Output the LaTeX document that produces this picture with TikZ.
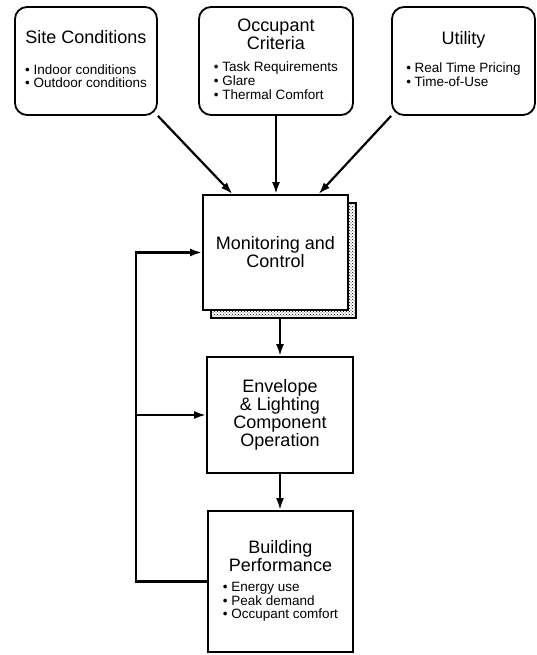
\documentclass[tikz,border=0pt]{standalone}
\usepackage{fontspec}
\setmainfont{Liberation Sans}
\usetikzlibrary{arrows.meta,patterns}
\tikzset{
  roundbox/.style={draw, line width=1.8pt, rounded corners=12pt, align=center, inner sep=0pt,
    font=\fontsize{18}{18}\selectfont},
  plainbox/.style={draw, line width=1.8pt, fill=white, align=center, inner sep=0pt,
    font=\fontsize{18}{18}\selectfont},
  shadowbox/.style={draw, line width=2pt, pattern=crosshatch dots, pattern color=black},
  flow/.style={line width=2.2pt, -{Latex[length=12pt,width=8pt]}},
}
\newcommand{\pointlist}[1]{{\fontsize{13.5}{13.5}\selectfont\begin{tabular}[t]{@{}l@{}}#1\end{tabular}}}
\newcommand{\pt}{\textbullet\ }
\begin{document}
\begin{tikzpicture}[x=1pt,y=-1pt]
        \useasboundingbox (0,0) rectangle (537,655);
        % input boxes
        \node[roundbox, minimum width=142pt, minimum height=108pt] (site) at (86,61)
            {Site Conditions\\[13pt]\pointlist{\pt Indoor conditions\\ \pt Outdoor conditions}};
        \node[roundbox, minimum width=154pt, minimum height=108pt] (occ) at (276,61)
            {Occupant\\Criteria\\[4pt]\pointlist{\pt Task Requirements\\ \pt Glare\\ \pt Thermal Comfort}};
        \node[roundbox, minimum width=143pt, minimum height=108pt] (util) at (463.5,61)
            {Utility\\[10pt]\pointlist{\pt Real Time Pricing\\ \pt Time-of-Use}};
        % control chain
        \node[shadowbox, minimum width=145pt, minimum height=115pt] (monsh) at (283.5,260.5) {};
        \node[plainbox, minimum width=145pt, minimum height=115pt] (mon) at (275.5,252.5)
            {Monitoring and\\Control};
        \node[plainbox, minimum width=146pt, minimum height=116pt] (env) at (280,415)
            {Envelope\\\& Lighting\\Component\\Operation};
        \node[plainbox, minimum width=145pt, minimum height=141pt] (bld) at (280.5,581.5)
            {Building\\Performance\\[2pt]\pointlist{\pt Energy use\\ \pt Peak demand\\ \pt Occupant comfort}};
        \coordinate (fb) at (136,0);
        % arrows
        \draw[flow] (site.south east) -- ([xshift=-43pt]mon.north);
        \draw[flow] (occ.south) -- (occ.south |- mon.north);
        \draw[flow] (util.south west) -- ([xshift=43pt]mon.north);
        \draw[flow] (env.north |- monsh.south) -- (env.north);
        \draw[flow] (env.south) -- (env.south |- bld.north);
        % feedback
        \draw[flow] (bld.west) -- (bld.west -| fb) -- (mon.west -| fb) -- (mon.west);
        \draw[flow] (env.west -| fb) -- (env.west);
\end{tikzpicture}
\end{document}
